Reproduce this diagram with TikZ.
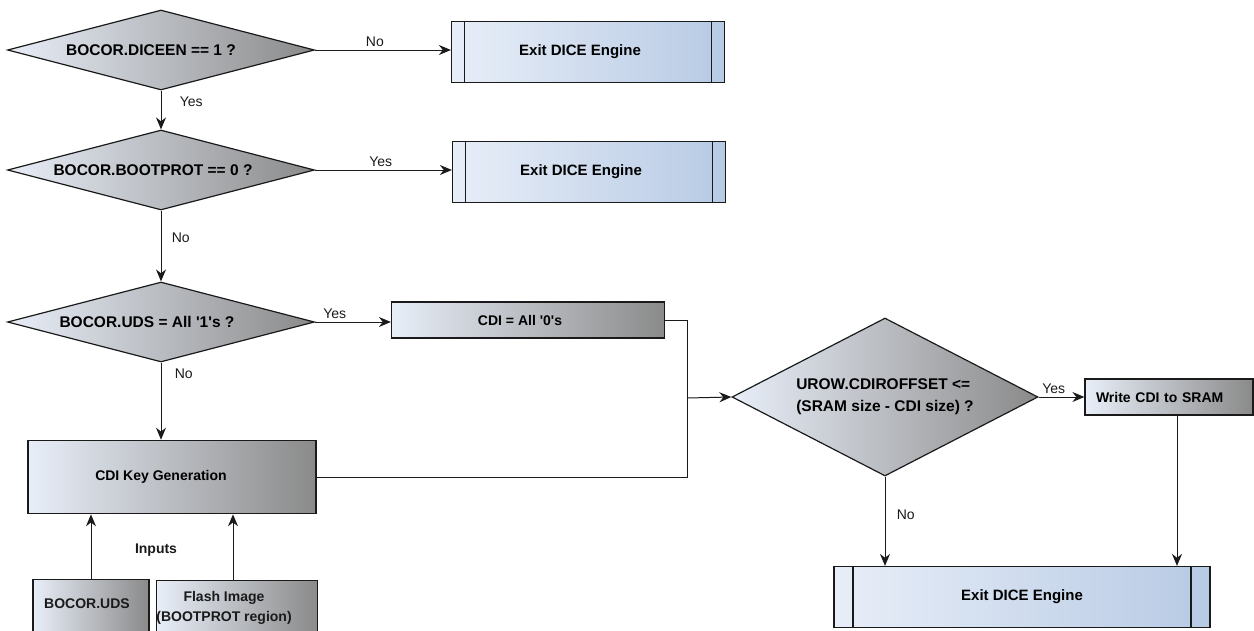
\documentclass[tikz,border=0pt]{standalone}
\usepackage{fontspec}
\setmainfont{Liberation Sans}
\usetikzlibrary{positioning, calc, arrows.meta, shapes.geometric}
\definecolor{Ink}{HTML}{1A1A1A}
\definecolor{PaleBlue}{HTML}{E8EEF8}
\definecolor{MidGray}{HTML}{8A8A8A}
\definecolor{ExitBlue}{HTML}{B7CAE4}
\tikzset{
    decision/.style={diamond, draw=Ink, line width=1.2pt, left color=PaleBlue, right color=MidGray, inner sep=0pt, align=center, font=\bfseries\fontsize{15.5}{22}\selectfont},
    stepbox/.style={rectangle, draw=Ink, line width=1.2pt, left color=PaleBlue, right color=MidGray, align=center, font=\bfseries\fontsize{14}{17}\selectfont},
    exitbox/.style={rectangle, draw=Ink, line width=1.2pt, left color=PaleBlue, right color=ExitBlue, font=\bfseries\fontsize{15}{18}\selectfont,
        path picture={
            \draw[Ink, line width=1.2pt] ([xshift=#1]path picture bounding box.north west) -- ([xshift=#1]path picture bounding box.south west)
                ([xshift=-#1]path picture bounding box.north east) -- ([xshift=-#1]path picture bounding box.south east);
        }},
    exitbox/.default=13pt,
    arrow/.style={-{Stealth[length=12pt, width=10pt]}, line width=1pt, color=Ink},
    link/.style={line width=1pt, color=Ink},
    answer/.style={font=\fontsize{14}{17}\selectfont, text=Ink},
}

\begin{document}
\begin{tikzpicture}[x=1pt, y=-1pt]
    \useasboundingbox (0,0) rectangle (1254,630);

    % --- 1. LEFT COLUMN: CHECKS ---
    \node[decision, minimum width=307pt, minimum height=80pt, aspect=3.8] (diceen) at (161,50) {BOCOR.DICEEN == 1 ?\hspace*{20pt}};
    \node[exitbox, minimum width=273pt, minimum height=61pt] (exitA) at (588,52) {Exit DICE Engine\hspace*{16pt}};

    \node[decision, minimum width=307pt, minimum height=80pt, aspect=3.8] (bootprot) at (161,170) {BOCOR.BOOTPROT == 0 ?\hspace*{16pt}};
    \node[exitbox, minimum width=273pt, minimum height=61pt] (exitB) at (589,172) {Exit DICE Engine\hspace*{16pt}};

    \node[decision, minimum width=307pt, minimum height=80pt, aspect=3.8] (udsone) at (161,322) {BOCOR.UDS = All \textquotesingle1\textquotesingle s ?\hspace*{28pt}};
    \node[stepbox, minimum width=273pt, minimum height=36pt] (cdizero) at (528,320) {CDI = All \textquotesingle0\textquotesingle s\hspace*{16pt}};

    % Key generation and its inputs
    \node[stepbox, line width=1.6pt, minimum width=288pt, minimum height=73pt] (keygen) at (172,477) {CDI Key Generation\hspace*{22pt}};
    \node[font=\bfseries\fontsize{14}{17}\selectfont, text=Ink] (inputs) at (156,550) {Inputs};

    \node[stepbox, minimum width=116pt, minimum height=80pt, anchor=north] (uds) at (91,579) {};
    \node[font=\bfseries\fontsize{14}{17}\selectfont, text=Ink] (udstext) at (87,604) {BOCOR.UDS};
    \node[stepbox, minimum width=161pt, minimum height=80pt, anchor=north] (flash) at (237,580) {};
    \node[font=\bfseries\fontsize{14}{20}\selectfont, text=Ink, align=center] (flashtext) at (224,608) {Flash Image\\(BOOTPROT region)};

    % --- 2. RIGHT PART: SRAM CHECK ---
    \node[decision, minimum width=306pt, minimum height=158pt, aspect=1.94, align=left] (offset) at (885,397) {UROW.CDIROFFSET <=\\(SRAM size - CDI size) ?};
    \node[stepbox, minimum width=168pt, minimum height=36pt, text width=146pt, align=left] (write) at (1169,397) {Write CDI to SRAM};
    \node[exitbox=19pt, minimum width=376pt, minimum height=61pt] (exitC) at (1022,597) {Exit DICE Engine};

    \coordinate (join) at (687,398);

    % --- 3. CONNECTORS ---
    \draw[arrow] (diceen.east) -- (diceen.east -| exitA.west) node[answer, above, pos=0.44] {No};
    \draw[arrow] (diceen.south) -- (bootprot.north) node[answer, right=15pt, pos=0.28] {Yes};
    \draw[arrow] (bootprot.east) -- (bootprot.east -| exitB.west) node[answer, above, pos=0.48] {Yes};
    \draw[arrow] (bootprot.south) -- (udsone.north) node[answer, right=7pt, pos=0.38] {No};
    \draw[arrow] (udsone.east) -- (udsone.east -| cdizero.west) node[answer, above, pos=0.26] {Yes};
    \draw[arrow] (udsone.south) -- (udsone.south |- keygen.north) node[answer, right=10pt, pos=0.15] {No};

    \draw[arrow] (uds.north) -- (uds.north |- keygen.south);
    \draw[arrow] ([xshift=-4pt]flash.north) -- ([xshift=-4pt]flash.north |- keygen.south);

    \draw[link] (cdizero.east) -| (join);
    \draw[link] (keygen.east) -| (join);
    \draw[arrow] (join) -- (offset.west);

    \draw[arrow] (offset.east) -- (write.west) node[answer, above, pos=0.33] {Yes};
    \draw[arrow] (offset.south) -- (offset.south |- exitC.north) node[answer, right=8pt, pos=0.43] {No};
    \draw[arrow] ([xshift=8pt]write.south) -- ([xshift=8pt]write.south |- exitC.north);
\end{tikzpicture}
\end{document}
